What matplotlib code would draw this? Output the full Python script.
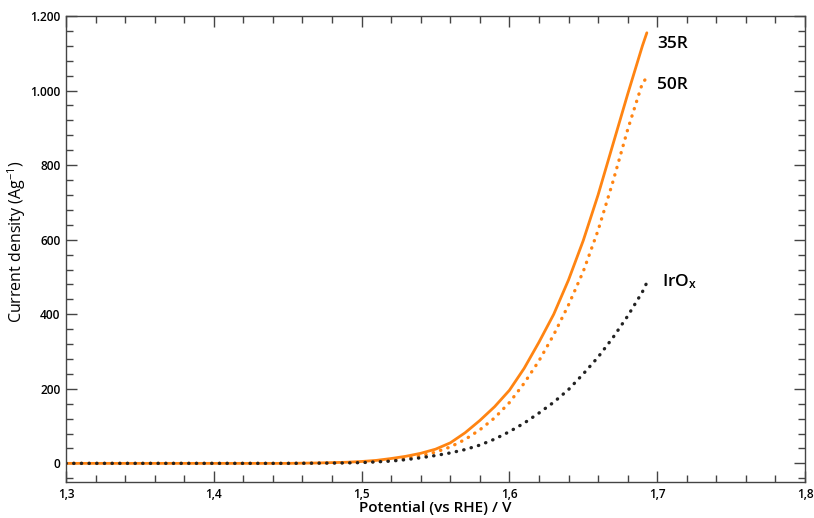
import matplotlib
matplotlib.use("Agg")
import matplotlib.pyplot as plt
from matplotlib.ticker import MultipleLocator, FuncFormatter

plt.rcParams['font.family'] = ['Open Sans', 'DejaVu Sans']
plt.rcParams['mathtext.fontset'] = 'custom'
plt.rcParams['mathtext.rm'] = 'Open Sans'
plt.rcParams['mathtext.it'] = 'Open Sans'
plt.rcParams['mathtext.bf'] = 'Open Sans:bold'

# Polarisation curves (potential vs RHE in V, current density in A/g)
potential = [1.30, 1.35, 1.40, 1.45, 1.46, 1.47, 1.48, 1.49, 1.50, 1.51, 1.52,
             1.53, 1.54, 1.55, 1.56, 1.57, 1.58, 1.59, 1.60, 1.61, 1.62, 1.63,
             1.64, 1.65, 1.66, 1.67, 1.68, 1.69, 1.693]
j_35R = [0, 0, 0, 0, 0.5, 1, 2, 3, 5, 8, 13,
         19, 27, 38, 55, 82, 115, 152, 196, 255, 325, 400,
         492, 598, 720, 855, 990, 1120, 1155]
j_50R = [0, 0, 0, 0, 0.3, 0.7, 1.2, 2, 3, 5, 9,
         14, 20, 30, 44, 64, 90, 122, 163, 215, 275, 345,
         425, 515, 625, 755, 895, 1020, 1035]
j_IrOx = [0, 0, 0, 0, 0.2, 0.5, 0.8, 1.2, 2, 4, 6,
          10, 15, 21, 28, 37, 49, 65, 85, 108, 135, 164,
          198, 240, 285, 337, 395, 460, 485]

series_labels = ["35R", "50R", "IrO$_\\mathregular{x}$"]

fig = plt.figure(figsize=(8.14, 5.18), dpi=100)
ax = fig.add_axes([66 / 814, 1 - 482 / 518, (805 - 66) / 814, (482 - 16) / 518])

orange = "#ff8412"
ax.plot(potential, j_35R, color=orange, lw=2.0, solid_capstyle='round')
ax.plot(potential, j_50R, color=orange, lw=2.4, linestyle=(0, (0.1, 2.2)),
        dash_capstyle='round')
ax.plot(potential, j_IrOx, color="#222222", lw=2.4, linestyle=(0, (0.1, 2.2)),
        dash_capstyle='round')

ax.set_xlim(1.3, 1.8)
ax.set_ylim(-50, 1200)

ax.xaxis.set_major_locator(MultipleLocator(0.1))
ax.xaxis.set_minor_locator(MultipleLocator(0.02))
ax.yaxis.set_major_locator(MultipleLocator(200))
ax.yaxis.set_minor_locator(MultipleLocator(40))

ax.xaxis.set_major_formatter(FuncFormatter(lambda v, p: f"{v:.1f}".replace(".", ",")))
ax.yaxis.set_major_formatter(FuncFormatter(
    lambda v, p: f"{int(round(v)):,}".replace(",", ".")))

ax.tick_params(which='both', direction='in', top=True, right=True,
               color='#444444', labelsize=8.6, pad=4)
ax.tick_params(which='major', length=8, width=1.0)
ax.tick_params(which='minor', length=5, width=1.0)
for lab in ax.get_xticklabels() + ax.get_yticklabels():
    lab.set_fontweight('semibold')
for sp in ax.spines.values():
    sp.set_color('#444444')
    sp.set_linewidth(1.0)

ax.set_xlabel("Potential (vs RHE) / V", fontsize=11, labelpad=0, fontweight='semibold')
ax.set_ylabel("Current density (Ag$^{\\mathregular{-1}}$)", fontsize=11.5)
ax.yaxis.set_label_coords(-0.052, 0.515)

# Curve labels
ax.text(1.700, 1125, series_labels[0], fontsize=12.5, fontweight='semibold', va='center')
ax.text(1.700, 1015, series_labels[1], fontsize=12.5, fontweight='semibold', va='center')
ax.text(1.703, 488, series_labels[2], fontsize=12.5, fontweight='semibold', va='center')

fig.savefig("out.png", dpi=100)
